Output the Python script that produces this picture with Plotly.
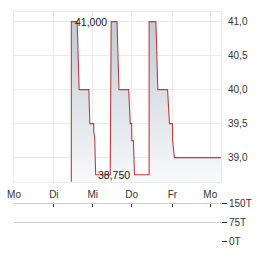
import plotly.graph_objects as go

# ---- data (x in trading-day units from Monday, y price) ----
day_labels = ["Mo", "Di", "Mi", "Do", "Fr", "Mo"]
day_pos = [0.0, 1.015, 2.005, 2.995, 4.035, 5.0]

price_x = [1.460, 1.460, 1.609, 1.658, 1.906, 1.931, 2.030, 2.030, 2.055, 2.080,
           2.450, 2.475, 2.624, 2.673, 2.921, 2.960, 2.995, 3.000, 3.040, 3.069,
           3.441, 3.441, 3.614, 3.663, 3.911, 3.960, 4.035, 4.040, 4.084, 5.272]
price_y = [38.40, 41.00, 41.00, 40.00, 40.00, 39.50, 39.50, 39.38, 39.30, 38.75,
           38.75, 41.00, 41.00, 40.00, 40.00, 39.50, 39.50, 39.25, 39.25, 38.75,
           38.75, 41.00, 41.00, 40.00, 40.00, 39.50, 39.50, 39.25, 39.00, 39.00]

hi_label = "41,000"
hi_x, hi_y = 1.968, 41.0
lo_label = "38,750"
lo_x, lo_y = 2.550, 38.75

price_ticks = [39.0, 39.5, 40.0, 40.5, 41.0]
price_tick_text = ["39,0", "39,5", "40,0", "40,5", "41,0"]
vol_ticks = [0, 75, 150]
vol_tick_text = ["0T", "75T", "150T"]

FONT = "Liberation Sans, Arial, sans-serif"

fig = go.Figure()
fig.add_trace(go.Scatter(
    x=price_x, y=price_y, mode="lines",
    line=dict(color="#c43b3b", width=1.1),
    fill="tozeroy",
    fillgradient=dict(type="vertical", start=38.65, stop=41.0,
                      colorscale=[[0, "rgba(250,251,252,1)"], [1, "rgb(193,204,212)"]]),
    hoverinfo="skip", showlegend=False, xaxis="x", yaxis="y"))

# empty volume pane trace to anchor axes
fig.add_trace(go.Scatter(x=[None], y=[None], xaxis="x2", yaxis="y2",
                         showlegend=False, hoverinfo="skip"))

fig.add_annotation(x=hi_x, y=hi_y, text=hi_label, showarrow=False,
                   font=dict(family=FONT, size=10.5, color="#1a1a1a"),
                   xref="x", yref="y")
fig.add_annotation(x=lo_x, y=lo_y, text=lo_label, showarrow=False,
                   font=dict(family=FONT, size=10.5, color="#1a1a1a"),
                   xref="x", yref="y")

xrange = [0, 5.272]
fig.update_layout(
    width=264, height=255,
    margin=dict(l=8, r=43, t=7, b=8),
    paper_bgcolor="white", plot_bgcolor="white",
    separators=",.",
    font=dict(family=FONT, size=10, color="#333"),
    xaxis=dict(domain=[0, 1], range=xrange, tickvals=day_pos, ticktext=day_labels,
               showgrid=True, gridcolor="#ebebeb", gridwidth=1, zeroline=False,
               showline=True, linecolor="#ebebeb", mirror=True, ticks="",
               ticklabelstandoff=3,
               tickfont=dict(size=10, color="#333"), anchor="y"),
    yaxis=dict(domain=[0.2625, 1], range=[38.648, 41.141], side="right",
               tickvals=price_ticks, ticktext=price_tick_text,
               showgrid=True, gridcolor="#ebebeb", zeroline=False,
               showline=True, linecolor="#ebebeb", mirror=True, ticks="",
               ticklabelstandoff=4,
               tickfont=dict(size=10, color="#333"), anchor="x"),
    xaxis2=dict(domain=[0, 1], range=xrange, tickvals=day_pos, showticklabels=False,
                side="top", showline=True, linecolor="#cccccc", ticks="inside",
                ticklen=3, tickcolor="#333", showgrid=False, zeroline=False,
                anchor="y2"),
    yaxis2=dict(domain=[0, 0.1667], range=[0, 150], side="right",
                tickvals=vol_ticks, ticktext=vol_tick_text,
                showgrid=True, gridcolor="#cccccc", zeroline=False,
                showline=False, ticks="outside", ticklen=5, tickcolor="#333",
                tickfont=dict(size=10, color="#333"), anchor="x2"),
)

fig.write_html("out.html")
